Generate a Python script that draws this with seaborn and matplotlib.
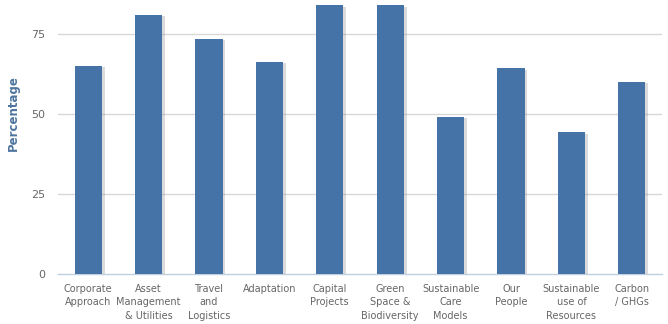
import matplotlib
matplotlib.use("Agg")
import matplotlib.pyplot as plt
import matplotlib.patheffects as pe
import seaborn as sns
import pandas as pd
import numpy as np

categories = ["Corporate\nApproach", "Asset\nManagement\n& Utilities", "Travel\nand\nLogistics",
              "Adaptation", "Capital\nProjects", "Green\nSpace &\nBiodiversity",
              "Sustainable\nCare\nModels", "Our\nPeople", "Sustainable\nuse of\nResources",
              "Carbon\n/ GHGs"]
values = [65, 81, 73.5, 66.3, 84, 84, 49.2, 64.3, 44.3, 60.1]
y_ticks = [0, 25, 50, 75]

df = pd.DataFrame({"cat": categories, "val": values})

sns.set_theme(style="white")
plt.rcParams['font.family'] = ['DejaVu Sans']

fig = plt.figure(figsize=(6.68, 3.24), dpi=100)
ax = fig.add_axes([58/668, 50/324, (662-58)/668, 274/324])

sns.barplot(data=df, x="cat", y="val", color="#4572A7", saturation=1, width=0.45,
            linewidth=0, ax=ax, zorder=3)
for p in ax.patches:
    p.set_path_effects([pe.SimplePatchShadow(offset=(2, -1), shadow_rgbFace="#888888", alpha=0.3), pe.Normal()])

ax.set_ylim(0, 85.6)
ax.set_xlim(-0.5, len(categories) - 0.5)
ax.set_yticks(y_ticks)
ax.set_yticklabels([str(t) for t in y_ticks], color="#666666", fontsize=8)
ax.set_xticks(range(len(categories)))
ax.set_xticklabels(categories, color="#666666", fontsize=7, linespacing=1.45)
ax.set_xticks(np.arange(-0.5, len(categories), 1.0), minor=True)
ax.tick_params(axis="x", which="major", length=0, pad=7)
ax.tick_params(axis="x", which="minor", length=5, color="#C0D0E0", width=1)
ax.tick_params(axis="y", length=0, pad=9)

for t in y_ticks[1:]:
    ax.axhline(t, color="#D8D8D8", lw=1, zorder=1)

for s in ["top", "right", "left"]:
    ax.spines[s].set_visible(False)
ax.spines["bottom"].set_color("#C0D0E0")
ax.spines["bottom"].set_linewidth(1)

ax.set_xlabel("")
ax.set_ylabel("Percentage", color="#4D759E", fontsize=8.5, fontweight="bold")
ax.yaxis.set_label_coords(-38/604, (274-113)/274)

fig.savefig("out.png", dpi=100)
